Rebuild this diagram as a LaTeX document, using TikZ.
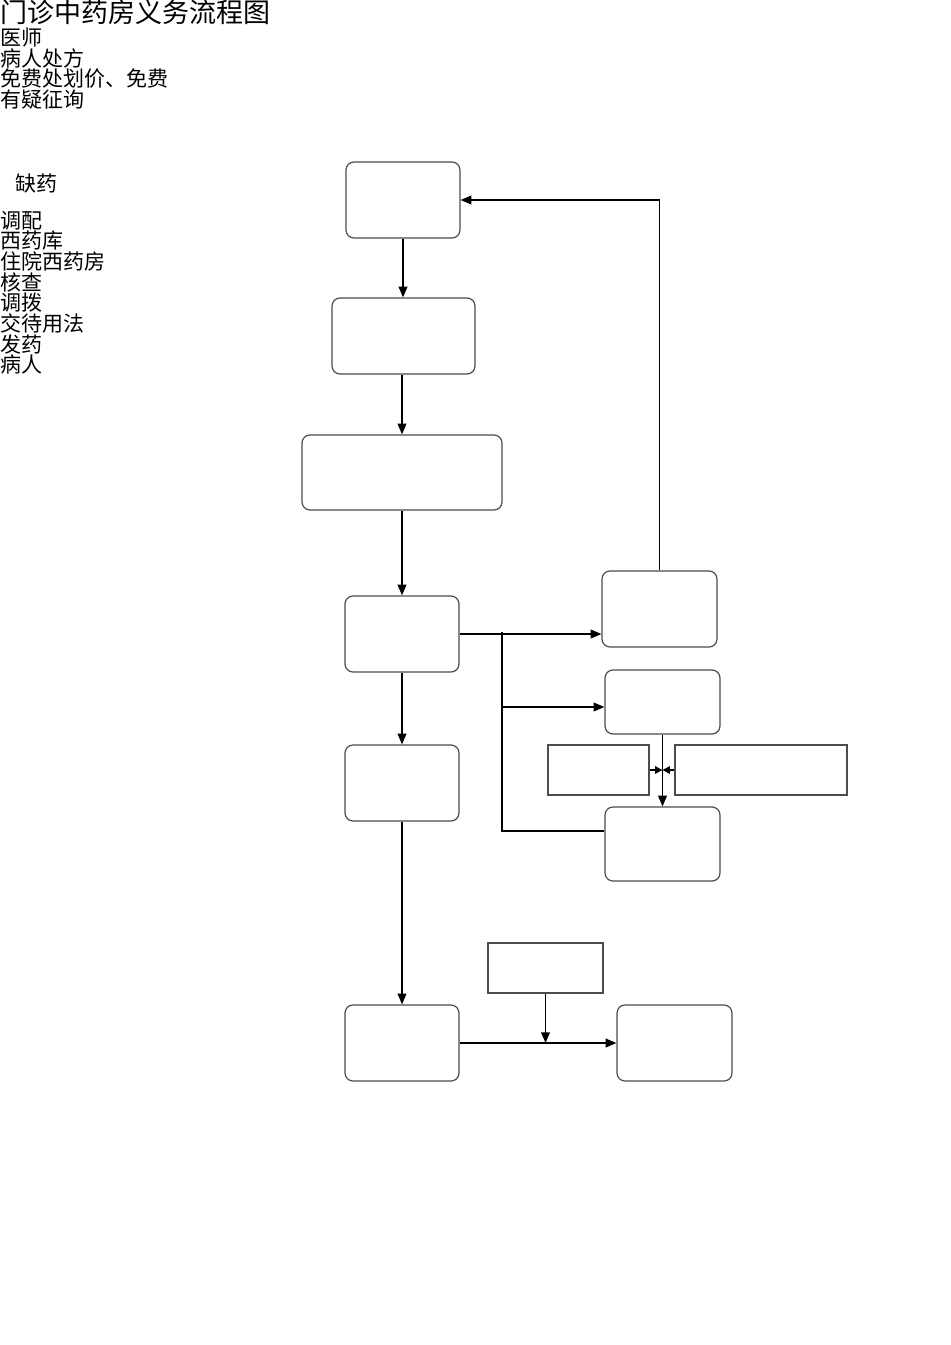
\documentclass[tikz,border=0pt]{standalone}
\usepackage{fontspec}
\setmainfont{Noto Sans CJK SC}
\usepackage{tikz}
\usetikzlibrary{arrows.meta,calc,positioning}

\tikzset{
  flowbox/.style={draw=black!70, line width=0.9pt, rounded corners=6pt, minimum width=85.5pt, minimum height=57pt, inner sep=0pt},
  notebox/.style={draw=black!70, line width=0.9pt, minimum width=86.25pt, minimum height=37.5pt, inner sep=0pt},
  link/.style={line width=1.1pt, -{Triangle[length=8pt,width=6.5pt]}},
  shortlink/.style={line width=1.1pt, -{Triangle[length=5.5pt,width=5.5pt]}},
  wire/.style={line width=1.1pt},
  txt/.style={anchor=base west, inner sep=0pt, font=\fontsize{15.75pt}{15.5pt}\selectfont}
}

\begin{document}
\begin{tikzpicture}[x=0.75pt, y=-0.75pt]
  \useasboundingbox (0,0) rectangle (950,1345);
  % texts
  \node [txt, font=\fontsize{20.25pt}{20pt}\selectfont] at (0,23) (T) {门诊中药房义务流程图};
  \foreach \t [count=\i] in {医师,病人处方,免费处划价、免费,有疑征询}
    \node [txt] at (0,{45.5+20.7*(\i-1)}) (N\i) {\t};
  \node [txt] at (15,191) (L) {缺药};
  \foreach \t [count=\i] in {调配,西药库,住院西药房,核查,调拨,交待用法,发药,病人}
    \node [txt] at (0,{228+20.7*(\i-1)}) (M\i) {\t};
  % boxes
  \node [flowbox] at (403,200) (DOC) {};
  \node [flowbox, minimum width=107.25pt] at (403.5,336) (PRICE) {};
  \node [flowbox, minimum width=150pt, minimum height=56.25pt] at (402,472.5) (ASK) {};
  \node [flowbox] at (402,634) (MIX) {};
  \node [flowbox, minimum width=86.25pt] at (659.5,609) (LACK) {};
  \node [flowbox, minimum width=86.25pt, minimum height=48pt] at (662.5,702) (STORE) {};
  \node [notebox, minimum width=75.75pt] at (598.5,770) (WARD) {};
  \node [notebox, minimum width=129pt] at (761,770) (OTHER) {};
  \node [flowbox, minimum width=86.25pt, minimum height=55.5pt] at (662.5,844) (MOVE) {};
  \node [flowbox] at (402,783) (CHECK) {};
  \node [flowbox] at (402,1043) (ISSUE) {};
  \node [notebox] at (545.5,968) (USE) {};
  \node [flowbox, minimum width=86.25pt] at (674.5,1043) (PAT) {};
  % connectors
  \draw [link] (DOC.south) to (DOC.south |- PRICE.north);
  \draw [link] (ASK.north |- PRICE.south) to (ASK.north);
  \draw [link] (ASK.south) to (MIX.north);
  \draw [link] (MIX.south) to (CHECK.north);
  \draw [link] (CHECK.south) to (ISSUE.north);
  \draw [link] (MIX.east) to (MIX.east -| LACK.west);
  \draw [link] (LACK.north) |- (DOC.east);
  \coordinate (split) at (502,632);
  \coordinate (low) at (502,831);
  \draw [wire] (split) -- (low) -- (low -| MOVE.west);
  \draw [link] (split |- 0,707) to (STORE.west |- 0,707);
  \draw [link] (STORE.south) to (MOVE.north);
  \coordinate (meet) at (STORE.south |- WARD.east);
  \draw [shortlink] (WARD.east) to (meet);
  \draw [shortlink] (OTHER.west) to (meet);
  \draw [link] (ISSUE.east) to (PAT.west);
  \coordinate (join) at (ISSUE.east -| USE.south);
  \draw [link] (USE.south) to (join);
\end{tikzpicture}
\end{document}
